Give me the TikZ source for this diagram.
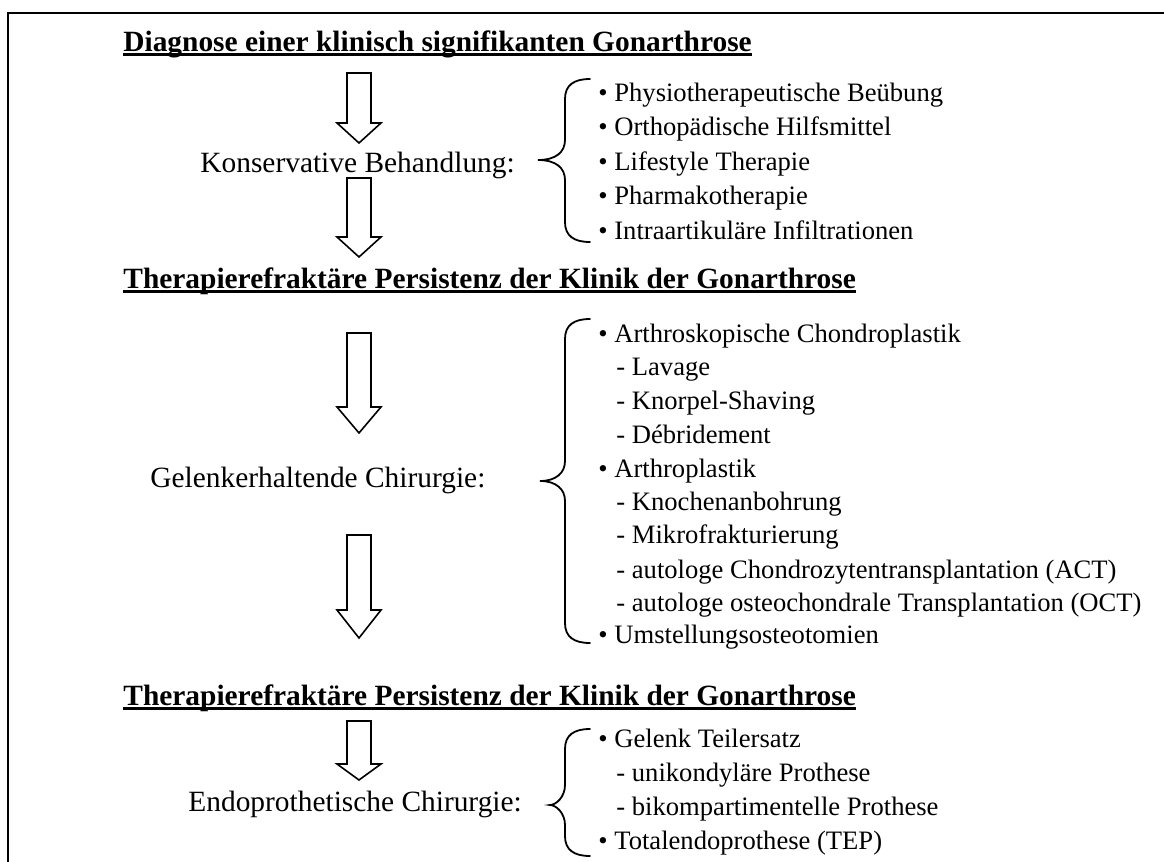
\documentclass[tikz,border=0pt]{standalone}
\usepackage{fontspec}
\setmainfont{Liberation Serif}

% block arrow: centre x, top, start of head, tip
\newcommand{\blockarrow}[4]{%
  \draw[flow] (#1-12,#2) -- (#1+12,#2) -- (#1+12,#3) -- (#1+22,#3)
    -- (#1,#4) -- (#1-22,#3) -- (#1-12,#3) -- cycle;}

% curly brace: top, tip, bottom, x of tip
\newcommand{\curly}[4]{%
  \draw[brace] (590,#1) .. controls (574,#1) and (565,#1+6) .. (565,#1+20)
    -- (565,#2-20) .. controls (565,#2-8) and (556,#2) .. (#4,#2)
    .. controls (556,#2) and (565,#2+8) .. (565,#2+20)
    -- (565,#3-20) .. controls (565,#3-6) and (574,#3) .. (590,#3);}

\begin{document}
\begin{tikzpicture}[x=0.5pt,y=-0.5pt,
  every node/.style={inner sep=0pt,font=\fontsize{14.7}{17}\selectfont},
  title/.style={anchor=base west,font=\fontsize{14.7}{17}\selectfont\bfseries},
  label/.style={anchor=base west},
  item/.style={anchor=base west,font=\fontsize{13.3}{16}\selectfont},
  uline/.style={line width=1.4pt},
  flow/.style={line width=0.8pt,line join=miter},
  brace/.style={line width=0.9pt,line cap=round}]

\useasboundingbox (0,0) rectangle (1164,862);

% Frame
\draw[line width=1pt] (1164,13) -- (8,13) -- (8,862);

% Titles
\node[title] (diag) at (123,51) {Diagnose einer klinisch signifikanten Gonarthrose};
\node[title] (persist1) at (123,288) {Therapierefraktäre Persistenz der Klinik der Gonarthrose};
\node[title] (persist2) at (123,705) {Therapierefraktäre Persistenz der Klinik der Gonarthrose};
\draw[uline] ([yshift=-1.8pt]diag.base west) -- ([yshift=-1.8pt]diag.base east);
\draw[uline] ([yshift=-1.8pt]persist1.base west) -- ([yshift=-1.8pt]persist1.base east);
\draw[uline] ([yshift=-1.8pt]persist2.base west) -- ([yshift=-1.8pt]persist2.base east);

% Treatments
\node[label] (konserv) at (200,172) {Konservative Behandlung:};
\node[label] (gelenk) at (150,487) {Gelenkerhaltende Chirurgie:};
\node[label] (endo) at (188,811) {Endoprothetische Chirurgie:};

% Arrows
\blockarrow{359}{73}{123}{143}
\blockarrow{359}{178}{237}{257}
\blockarrow{359}{333}{407}{433}
\blockarrow{359}{535}{610}{638}
\blockarrow{359}{721}{764}{780}

% Braces
\curly{79}{160}{242}{538}
\curly{319}{481}{643}{540}
\curly{729}{805}{856}{550}

% Conservative items
\node[item] (k1) at (598,101) {• Physiotherapeutische Beübung};
\node[item] (k2) at (598,135) {• Orthopädische Hilfsmittel};
\node[item] (k3) at (598,170) {• Lifestyle Therapie};
\node[item] (k4) at (598,204) {• Pharmakotherapie};
\node[item] (k5) at (598,239) {• Intraartikuläre Infiltrationen};

% Joint preserving items
\node[item] (g1) at (598,342) {• Arthroskopische Chondroplastik};
\node[item] (g2) at (616,375) {- Lavage};
\node[item] (g3) at (616,409) {- Knorpel-Shaving};
\node[item] (g4) at (616,443) {- Débridement};
\node[item] (g5) at (598,477) {• Arthroplastik};
\node[item] (g6) at (616,510) {- Knochenanbohrung};
\node[item] (g7) at (616,543) {- Mikrofrakturierung};
\node[item] (g8) at (616,578) {- autologe Chondrozytentransplantation (ACT)};
\node[item] (g9) at (616,611) {- autologe osteochondrale Transplantation (OCT)};
\node[item] (g10) at (598,643) {• Umstellungsosteotomien};

% Endoprosthetic items
\node[item] (e1) at (598,747) {• Gelenk Teilersatz};
\node[item] (e2) at (616,781) {- unikondyläre Prothese};
\node[item] (e3) at (616,815) {- bikompartimentelle Prothese};
\node[item] (e4) at (598,849) {• Totalendoprothese (TEP)};

\end{tikzpicture}
\end{document}
